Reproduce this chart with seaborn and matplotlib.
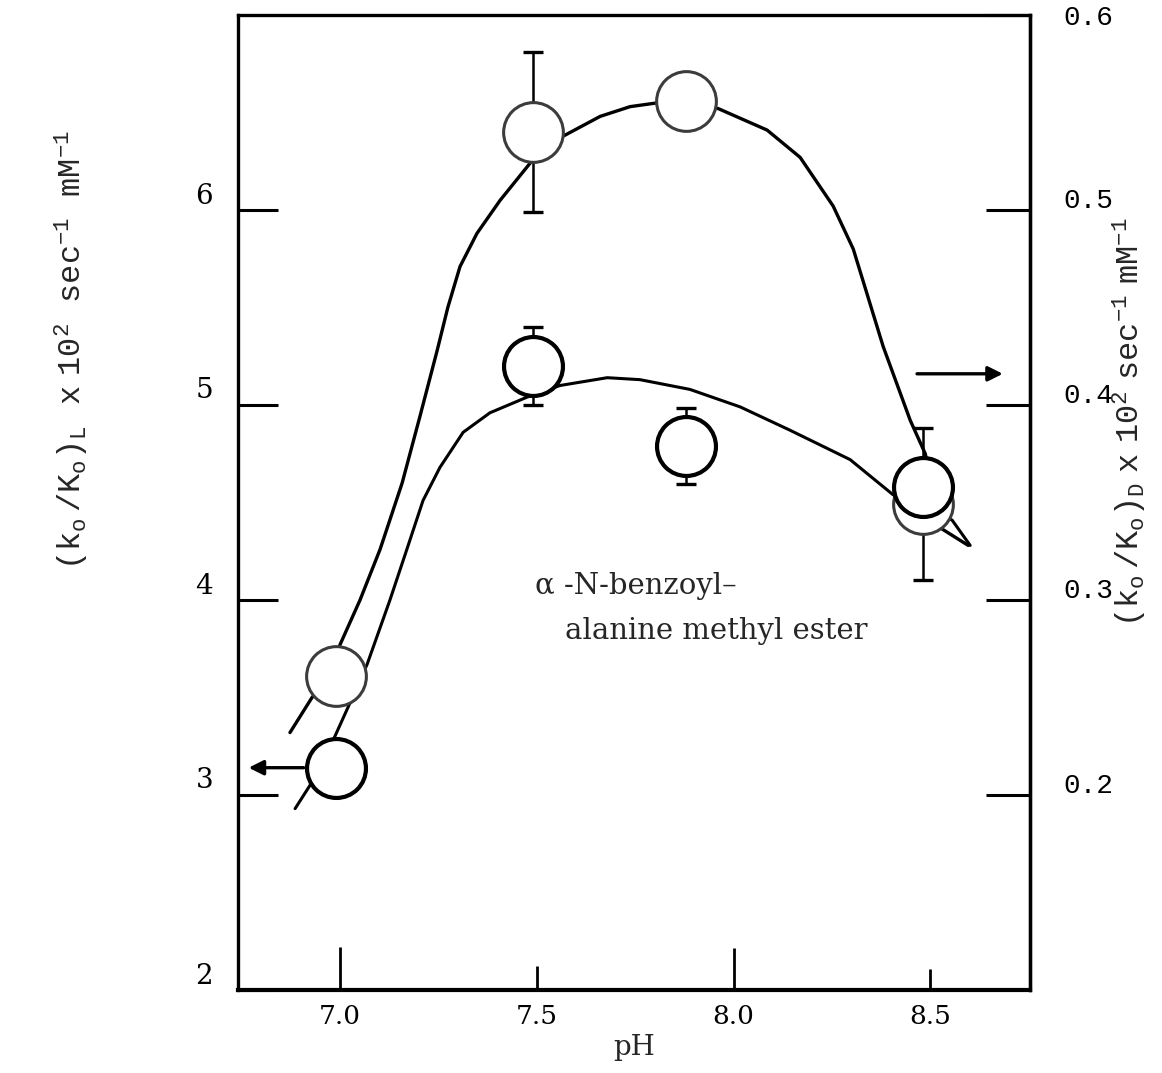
import numpy as np
import pandas as pd
import matplotlib
matplotlib.use("Agg")
import matplotlib.pyplot as plt
import seaborn as sns
from matplotlib.transforms import ScaledTranslation

# ---- measured activities (circles) ----
ph_points = [6.99, 7.49, 7.88, 8.48]
k_L = [3.14, 5.20, 4.79, 4.58]          # left axis, (ko/Ko)_L x 10^2
k_L_err = [0.0, 0.20, 0.195, 0.0]
k_D = [0.261, 0.540, 0.556, 0.349]      # right axis, (ko/Ko)_D x 10^2
k_D_err = [0.0, 0.041, 0.0, 0.039]

# ---- hand-drawn guide curves through the data ----
curve_L_ph = [6.886, 6.924, 6.987, 7.025, 7.069, 7.127, 7.170, 7.211, 7.254,
              7.313, 7.381, 7.475, 7.559, 7.679, 7.762, 7.889, 8.017, 8.144,
              8.296, 8.405, 8.555, 8.601]
curve_L = [2.93, 3.05, 3.30, 3.47, 3.67, 4.00, 4.26, 4.51, 4.68,
           4.86, 4.96, 5.04, 5.10, 5.14, 5.13, 5.08, 4.99, 4.87,
           4.72, 4.54, 4.41, 4.28]

curve_D_ph = [6.873, 6.929, 6.987, 7.000, 7.051, 7.102, 7.158, 7.203, 7.247,
              7.274, 7.305, 7.348, 7.407, 7.483, 7.559, 7.661, 7.737, 7.808,
              7.889, 7.961, 8.085, 8.169, 8.253, 8.304, 8.380, 8.449, 8.487,
              8.525, 8.596]
curve_D = [0.232, 0.250, 0.261, 0.277, 0.300, 0.326, 0.360, 0.394, 0.428,
           0.450, 0.471, 0.488, 0.505, 0.524, 0.537, 0.548, 0.553, 0.555,
           0.556, 0.552, 0.541, 0.527, 0.502, 0.480, 0.430, 0.392, 0.375,
           0.337, 0.328]

x_ticks = [7.0, 7.5, 8.0, 8.5]
x_tick_labels = ["7.0", "7.5", "8.0", "8.5"]
left_ticks = [2, 3, 4, 5, 6]
left_tick_labels = ["2", "3", "4", "5", "6"]
right_ticks = [0.2, 0.3, 0.4, 0.5, 0.6]
right_tick_labels = ["0.2", "0.3", "0.4", "0.5", "0.6"]


# the D scale shares the frame with the L scale: 0.1 <-> 2, 0.6 <-> 7
def d_to_l(r):
    return np.asarray(r) * 10.0 + 1.0


def l_to_d(v):
    return (np.asarray(v) - 1.0) / 10.0


sns.set_theme(style="white")
plt.rcParams["font.family"] = ["DejaVu Serif", "DejaVu Sans"]
plt.rcParams["mathtext.fontset"] = "dejavuserif"

fig = plt.figure(figsize=(11.62, 10.73), dpi=100)
ax = fig.add_axes([238 / 1162, 1 - 990 / 1073, (1030 - 238) / 1162, (990 - 15) / 1073])

ax.set_xlim(6.741, 8.753)
ax.set_ylim(2.0, 7.0)

df_L = pd.DataFrame({"pH": curve_L_ph, "k": curve_L})
df_D = pd.DataFrame({"pH": curve_D_ph, "k": d_to_l(curve_D)})
sns.lineplot(data=df_L, x="pH", y="k", sort=False, estimator=None,
             color="black", lw=2.2, ax=ax, zorder=2)
sns.lineplot(data=df_D, x="pH", y="k", sort=False, estimator=None,
             color="black", lw=2.4, ax=ax, zorder=2)
for ln in ax.get_lines():
    ln.set_solid_joinstyle("round")

# error bars
for x, y, e in zip(ph_points, k_L, k_L_err):
    if e > 0:
        ax.errorbar([x], [y], yerr=[e], fmt="none", ecolor="black",
                    elinewidth=1.8, capsize=7.5, capthick=2.4, zorder=2.5)
for x, y, e in zip(ph_points, d_to_l(k_D), k_D_err):
    if e > 0:
        ax.errorbar([x], [y], yerr=[e * 10.0], fmt="none", ecolor="black",
                    elinewidth=1.8, capsize=7.5, capthick=2.4, zorder=2.5)

# open circles
pts_D = pd.DataFrame({"pH": ph_points, "k": d_to_l(k_D)})
pts_L = pd.DataFrame({"pH": ph_points, "k": k_L})
sns.scatterplot(data=pts_D, x="pH", y="k", s=1850, marker="o",
                facecolor="white", edgecolor="#3c3c3c", linewidth=2.2,
                ax=ax, zorder=3)
sns.scatterplot(data=pts_L, x="pH", y="k", s=1800, marker="o",
                facecolor="white", edgecolor="black", linewidth=3.0,
                ax=ax, zorder=4)

# arrows pointing to each scale
ax.annotate("", xy=(6.768, k_L[0]), xytext=(6.908, k_L[0]),
            arrowprops=dict(arrowstyle="-|>", color="black", lw=2.4,
                            mutation_scale=22, shrinkA=0, shrinkB=0))
ax.annotate("", xy=(8.684, 5.16), xytext=(8.466, 5.16),
            arrowprops=dict(arrowstyle="-|>", color="black", lw=2.4,
                            mutation_scale=22, shrinkA=0, shrinkB=0))

ax.text(7.496, 4.03, "\u03b1 -N-benzoyl\u2013", fontsize=21,
        family=["DejaVu Serif"], ha="left", va="baseline")
ax.text(7.572, 3.80, "alanine methyl ester", fontsize=21,
        family=["DejaVu Serif"], ha="left", va="baseline")

# axes frame and ticks
for sp in ax.spines.values():
    sp.set_visible(True)
    sp.set_color("black")
ax.spines["left"].set_linewidth(2.4)
ax.spines["bottom"].set_linewidth(3.0)
ax.spines["top"].set_linewidth(2.4)
ax.spines["right"].set_linewidth(2.4)

ax.set_xticks(x_ticks)
ax.set_xticklabels(x_tick_labels, fontsize=19)
ax.set_yticks(left_ticks)
ax.set_yticklabels(left_tick_labels, fontsize=20)
ax.tick_params(axis="x", direction="in", length=30, width=2.0, pad=10,
               colors="black", bottom=True, top=False)
ax.tick_params(axis="y", direction="in", length=29, width=2.2, pad=18,
               colors="black", left=True, right=False)
for tk, ln in zip(ax.xaxis.get_major_ticks(), [31, 17, 30, 15]):
    tk.tick1line.set_markersize(ln)
for lbl in ax.get_yticklabels():
    lbl.set_transform(lbl.get_transform() + ScaledTranslation(0, 0.17, fig.dpi_scale_trans))

ax.set_xlabel("pH", fontsize=20, labelpad=4)
ax.set_ylabel("")

sec = ax.secondary_yaxis("right", functions=(l_to_d, d_to_l))
sec.set_yticks(right_ticks)
sec.set_yticklabels(right_tick_labels, fontsize=20, family=["Liberation Mono"])
sec.tick_params(axis="y", direction="in", length=32, width=2.2, pad=24,
                colors="black", right=True)
sec.spines["right"].set_linewidth(2.4)
for lbl in sec.get_yticklabels()[:-1]:
    lbl.set_transform(lbl.get_transform() + ScaledTranslation(0, 0.12, fig.dpi_scale_trans))

fig.text(0.062, 0.674,
         r"$\mathregular{(k_o\,/K_o)_L\ \ x\ 10^2\ \ sec^{-1}\ \ mM^{-1}}$",
         rotation=90, ha="center", va="center", fontsize=23,
         family=["Liberation Mono"])
fig.text(0.972, 0.607,
         r"$\mathregular{(k_o\,/K_o)_D\ x\ 10^2\ sec^{-1}\ mM^{-1}}$",
         rotation=90, ha="center", va="center", fontsize=23,
         family=["Liberation Mono"])

fig.savefig("out.png", dpi=100, facecolor="white")
